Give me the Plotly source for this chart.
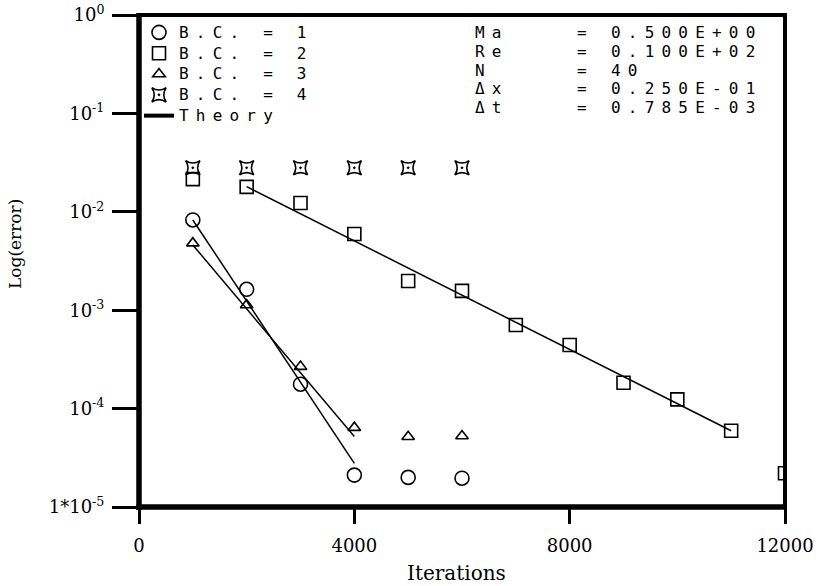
import plotly.graph_objects as go

# ---------------- data ----------------
iters_short = [1000, 2000, 3000, 4000, 5000, 6000]
bc1_err = [8.26e-3, 1.63e-3, 1.77e-4, 2.11e-5, 2.00e-5, 1.96e-5]
bc3_err = [4.80e-3, 1.13e-3, 2.67e-4, 6.40e-5, 5.18e-5, 5.26e-5]
bc4_err = [2.8e-2, 2.8e-2, 2.8e-2, 2.8e-2, 2.8e-2, 2.8e-2]

iters_long = [1000, 2000, 3000, 4000, 5000, 6000, 7000, 8000, 9000, 10000, 11000, 12000]
bc2_err = [2.15e-2, 1.79e-2, 1.23e-2, 5.95e-3, 1.98e-3, 1.57e-3, 7.08e-4,
           4.43e-4, 1.83e-4, 1.24e-4, 5.96e-5, 2.20e-5]

theory1_x = [1000, 4000]
theory1_y = [8.26e-3, 2.78e-5]
theory3_x = [1000, 4000]
theory3_y = [4.60e-3, 5.20e-5]
theory2_x = [2000, 11000]
theory2_y = [1.80e-2, 5.96e-5]

legend_names = ["B.C. = 1", "B.C. = 2", "B.C. = 3", "B.C. = 4", "Theory"]

param_names = ["Ma", "Re", "N", "\u0394x", "\u0394t"]
param_values = ["0.500E+00", "0.100E+02", "40", "0.250E-01", "0.785E-03"]

x_tickvals = [0, 4000, 8000, 12000]
x_ticktext = ["0", "4000", "8000", "12000"]
y_tickvals = [1e-5, 1e-4, 1e-3, 1e-2, 1e-1, 1e0]
y_ticktext = ["1*10<sup>-5</sup>", "10<sup>-4</sup>", "10<sup>-3</sup>",
              "10<sup>-2</sup>", "10<sup>-1</sup>", "10<sup>0</sup>"]

# ---------------- styling ----------------
SERIF = "DejaVu Serif"
MONO = "DejaVu Sans Mono"
SPAN = '<span style="font-size:16px;letter-spacing:7.2px">{}</span>'


def lbl(t):
    return SPAN.format(t)


fig = go.Figure()

mk_line = dict(width=1.6, color="black")
fig.add_trace(go.Scatter(x=iters_short, y=bc1_err, mode="markers", name=lbl(legend_names[0]),
                         marker=dict(symbol="circle-open", size=14, color="black", line=mk_line)))
fig.add_trace(go.Scatter(x=iters_long, y=bc2_err, mode="markers", name=lbl(legend_names[1]),
                         marker=dict(symbol="square-open", size=13, color="black", line=mk_line)))
fig.add_trace(go.Scatter(x=iters_short, y=bc3_err, mode="markers", name=lbl(legend_names[2]),
                         marker=dict(symbol="triangle-up-open", size=11, color="black", line=mk_line)))
fig.add_trace(go.Scatter(x=iters_short, y=bc4_err, mode="markers", name=lbl(legend_names[3]),
                         marker=dict(symbol="star-square-open-dot", size=13, color="black", line=mk_line)))

for tx, ty in [(theory1_x, theory1_y), (theory3_x, theory3_y), (theory2_x, theory2_y)]:
    fig.add_trace(go.Scatter(x=tx, y=ty, mode="lines", showlegend=False,
                             line=dict(color="black", width=1.5)))
# legend entry for the theory lines
fig.add_trace(go.Scatter(x=[None], y=[None], mode="lines", name=lbl(legend_names[4]),
                         line=dict(color="black", width=4)))

L, R, T, B = 139, 38, 15, 79
W, H = 823, 586
pw, ph = W - L - R, H - T - B


def px_x(p):
    return (p - L) / pw


def px_y(p):
    return (H - B - p) / ph


annotations = []
row_y = [32.5, 51.3, 70.1, 88.9, 107.7]
for i, (n, v) in enumerate(zip(param_names, param_values)):
    for xpx, txt in [(473, n), (575, "="), (609, v)]:
        annotations.append(dict(x=px_x(xpx), y=px_y(row_y[i]), xref="paper", yref="paper",
                                xanchor="left", yanchor="middle", showarrow=False,
                                text=lbl(txt), font=dict(family=MONO, size=16, color="black")))

annotations.append(dict(x=px_x(456), y=px_y(573), xref="paper", yref="paper",
                        xanchor="center", yanchor="middle", showarrow=False,
                        text="Iterations", font=dict(family=SERIF, size=20, color="black")))
annotations.append(dict(x=px_x(15), y=px_y(244), xref="paper", yref="paper",
                        xanchor="center", yanchor="middle", showarrow=False, textangle=-90,
                        text="Log(error)", font=dict(family=SERIF, size=17, color="black")))

shapes = [
    dict(type="rect", xref="paper", yref="paper", x0=0, x1=1, y0=0, y1=1,
         line=dict(color="black", width=4), layer="above"),
    dict(type="line", xref="paper", yref="paper", x0=0, x1=0, y0=-0.006, y1=1.004,
         line=dict(color="black", width=5.5), layer="above"),
    dict(type="line", xref="paper", yref="paper", x0=-0.004, x1=1.003, y0=0, y1=0,
         line=dict(color="black", width=5.5), layer="above"),
]

fig.update_layout(
    width=W, height=H,
    margin=dict(l=L, r=R, t=T, b=B, pad=0, autoexpand=False),
    paper_bgcolor="white", plot_bgcolor="white",
    showlegend=True,
    legend=dict(x=0.0, y=px_y(17), xanchor="left", yanchor="top",
                bgcolor="rgba(0,0,0,0)", borderwidth=0,
                font=dict(family=MONO, size=13.7, color="black"),
                traceorder="normal", itemwidth=30),
    annotations=annotations,
    shapes=shapes,
    xaxis=dict(range=[0, 12000], tickvals=x_tickvals, ticktext=x_ticktext,
               ticks="outside", ticklen=16, tickwidth=3, tickcolor="black",
               showline=False, showgrid=False, zeroline=False, automargin=False,
               tickfont=dict(family=SERIF, size=18, color="black"),
               ticklabelstandoff=6),
    yaxis=dict(type="log", range=[-5, 0], tickvals=y_tickvals, ticktext=y_ticktext,
               ticks="outside", ticklen=26, tickwidth=3, tickcolor="black",
               showline=False, showgrid=False, zeroline=False, automargin=False,
               tickfont=dict(family=SERIF, size=18, color="black"),
               ticklabelstandoff=4),
    font=dict(family=SERIF, color="black"),
)

fig.write_html("out.html")
